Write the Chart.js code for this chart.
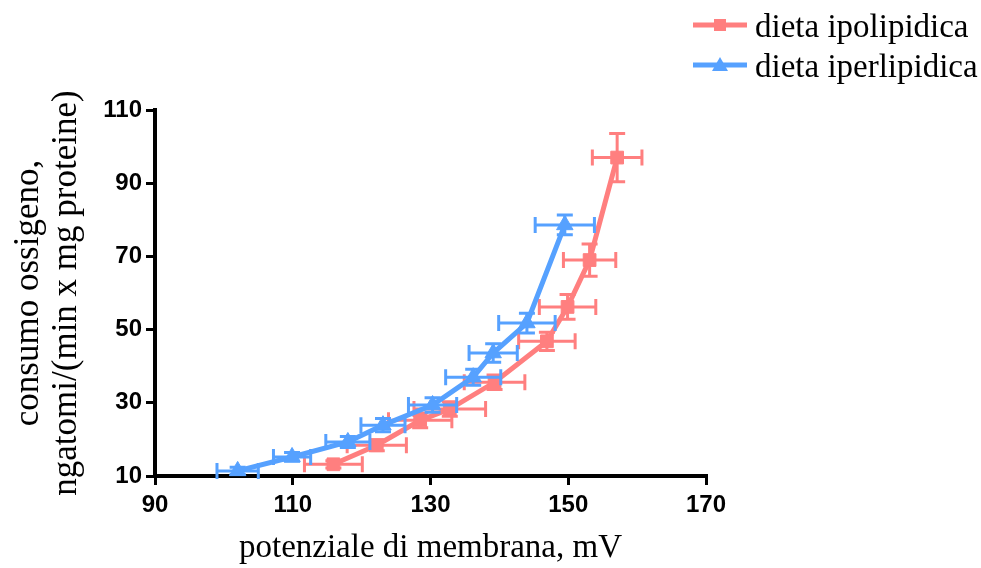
<!DOCTYPE html>
<html>
<head>
<meta charset="utf-8">
<script src="https://cdn.jsdelivr.net/npm/chart.js@4.4.1/dist/chart.umd.min.js"></script>
<style>
  html, body { margin: 0; padding: 0; background: #fff; }
  #wrap { width: 981px; height: 568px; }
</style>
</head>
<body>
<div id="wrap"><canvas id="chart"></canvas></div>
<script>
// ─── Data ─────────────────────────────────────────────
const seriesNames = ["dieta ipolipidica", "dieta iperlipidica"];

// dieta ipolipidica (red squares)
const ipoX    = [115.9, 122.2, 128.5, 132.8, 139.3, 146.9, 149.9, 153.1, 157.1];
const ipoY    = [13.2, 18.4, 25.2, 28.3, 35.6, 46.8, 56.2, 69.0, 97.0];
const ipoXErr = [4.2, 4.3, 4.6, 5.2, 4.4, 4.1, 4.1, 3.8, 3.6];
const ipoYErr = [1.0, 1.5, 2.0, 2.0, 2.0, 2.5, 3.4, 4.4, 6.6];

// dieta iperlipidica (blue triangles)
const iperX    = [102.0, 109.9, 118.0, 123.1, 130.3, 136.2, 139.1, 144.0, 149.5];
const iperY    = [11.4, 15.2, 19.3, 23.9, 29.4, 37.0, 43.6, 51.8, 78.6];
const iperXErr = [3.0, 2.7, 3.2, 3.2, 3.5, 4.0, 3.5, 4.1, 4.3];
const iperYErr = [1.0, 1.2, 1.5, 1.8, 2.0, 2.2, 2.5, 2.7, 2.7];

const xTicks = [90, 110, 130, 150, 170];
const yTicks = [10, 30, 50, 70, 90, 110];
const xTitle = "potenziale di membrana, mV";
const yTitle = ["consumo ossigeno,", "ngatomi/(min x mg proteine)"];

// ─── Styles ───────────────────────────────────────────
const RED = "#ff7f7f";
const BLUE = "#56a1ff";
const SERIF = "'Liberation Serif', 'Times New Roman', serif";
const CAP = 8;

// tick labels are a condensed bold face; use Liberation Sans Narrow if present
function hasFont(name) {
  const c = document.createElement("canvas").getContext("2d");
  c.font = "bold 100px monospace";
  const base = c.measureText("110 abc").width;
  c.font = "bold 100px '" + name + "', monospace";
  return c.measureText("110 abc").width !== base;
}
const narrow = hasFont("Liberation Sans Narrow");
const tickFont = narrow
  ? { family: "'Liberation Sans Narrow', sans-serif", size: 28, weight: "bold" }
  : { family: "'Liberation Sans', Arial, sans-serif", size: 24, weight: "bold" };

function points(xs, ys) {
  return xs.map((x, i) => ({ x, y: ys[i] }));
}

// ─── Error bars (drawn under each dataset's markers) ──
const errorBars = {
  id: "errorBars",
  beforeDatasetDraw(chart, args) {
    const ds = chart.data.datasets[args.index];
    if (!ds.xErr) return;
    const xs = chart.scales.x, ys = chart.scales.y;
    const ctx = chart.ctx;
    ctx.save();
    ctx.strokeStyle = ds.borderColor;
    ctx.lineWidth = 3;
    ds.data.forEach((p, i) => {
      const px = xs.getPixelForValue(p.x), py = ys.getPixelForValue(p.y);
      const x0 = xs.getPixelForValue(p.x - ds.xErr[i]);
      const x1 = xs.getPixelForValue(p.x + ds.xErr[i]);
      const y0 = ys.getPixelForValue(p.y - ds.yErr[i]);
      const y1 = ys.getPixelForValue(p.y + ds.yErr[i]);
      ctx.beginPath();
      ctx.moveTo(x0, py); ctx.lineTo(x1, py);
      ctx.moveTo(x0, py - CAP); ctx.lineTo(x0, py + CAP);
      ctx.moveTo(x1, py - CAP); ctx.lineTo(x1, py + CAP);
      ctx.moveTo(px, y0); ctx.lineTo(px, y1);
      ctx.moveTo(px - CAP, y0); ctx.lineTo(px + CAP, y0);
      ctx.moveTo(px - CAP, y1); ctx.lineTo(px + CAP, y1);
      ctx.stroke();
    });
    ctx.restore();
  }
};

// ─── Legend (top right, stacked) ──────────────────────
const sideLegend = {
  id: "sideLegend",
  afterDraw(chart) {
    const ctx = chart.ctx;
    const rows = [
      { label: seriesNames[0], color: RED, style: "rect", y: 25 },
      { label: seriesNames[1], color: BLUE, style: "triangle", y: 65 }
    ];
    ctx.save();
    rows.forEach(r => {
      ctx.strokeStyle = r.color;
      ctx.lineWidth = 5;
      ctx.beginPath();
      ctx.moveTo(693, r.y); ctx.lineTo(747, r.y);
      ctx.stroke();
      ctx.fillStyle = r.color;
      ctx.beginPath();
      if (r.style === "rect") {
        ctx.rect(714, r.y - 6, 12, 12);
      } else {
        ctx.moveTo(720, r.y - 8); ctx.lineTo(728, r.y + 6); ctx.lineTo(712, r.y + 6); ctx.closePath();
      }
      ctx.fill();
      ctx.fillStyle = "#000";
      ctx.font = "33px " + SERIF;
      ctx.textBaseline = "alphabetic";
      ctx.fillText(r.label, 755, r.y + 12);
    });
    ctx.restore();
  }
};

// ─── Chart ────────────────────────────────────────────
const xTitleFont = { family: SERIF, size: 33, lineHeight: 1.18 };
const yTitleFont = { family: SERIF, size: 35, lineHeight: 1.11 };

new Chart(document.getElementById("chart"), {
  type: "line",
  data: {
    datasets: [
      {
        label: seriesNames[1],
        data: points(iperX, iperY),
        xErr: iperXErr, yErr: iperYErr,
        borderColor: BLUE, backgroundColor: BLUE,
        borderWidth: 5, pointStyle: "triangle", pointRadius: 9.5,
        pointBorderWidth: 1, tension: 0, clip: false, order: 0
      },
      {
        label: seriesNames[0],
        data: points(ipoX, ipoY),
        xErr: ipoXErr, yErr: ipoYErr,
        borderColor: RED, backgroundColor: RED,
        borderWidth: 5, pointStyle: "rect", pointRadius: 9,
        pointBorderWidth: 1, tension: 0, clip: false, order: 1
      }
    ]
  },
  options: {
    responsive: true,
    maintainAspectRatio: false,
    animation: false,
    layout: { padding: { left: 0, top: 110, right: 275, bottom: 0 } },
    plugins: { legend: { display: false }, tooltip: { enabled: false } },
    scales: {
      x: {
        type: "linear", min: 90, max: 170,
        afterBuildTicks: s => { s.ticks = xTicks.map(v => ({ value: v })); },
        afterFit: s => { s.height = 92; },
        border: { display: true, color: "#000", width: 4 },
        grid: { drawOnChartArea: false, drawTicks: true, tickLength: 9, color: "#000", lineWidth: 3 },
        ticks: { font: tickFont, color: "#000", padding: 6, maxRotation: 0 },
        title: { display: true, text: xTitle, font: xTitleFont, color: "#000", padding: { top: 0, bottom: 0 } }
      },
      y: {
        type: "linear", min: 10, max: 110,
        afterBuildTicks: s => { s.ticks = yTicks.map(v => ({ value: v })); },
        afterFit: s => { s.width = 155; },
        border: { display: true, color: "#000", width: 4 },
        grid: { drawOnChartArea: false, drawTicks: true, tickLength: 9, color: "#000", lineWidth: 3 },
        ticks: { font: tickFont, color: "#000", padding: 4 },
        title: { display: true, text: yTitle, font: yTitleFont, color: "#000", padding: { top: 9, bottom: 0 } }
      }
    }
  },
  plugins: [errorBars, sideLegend]
});
</script>
</body>
</html>
